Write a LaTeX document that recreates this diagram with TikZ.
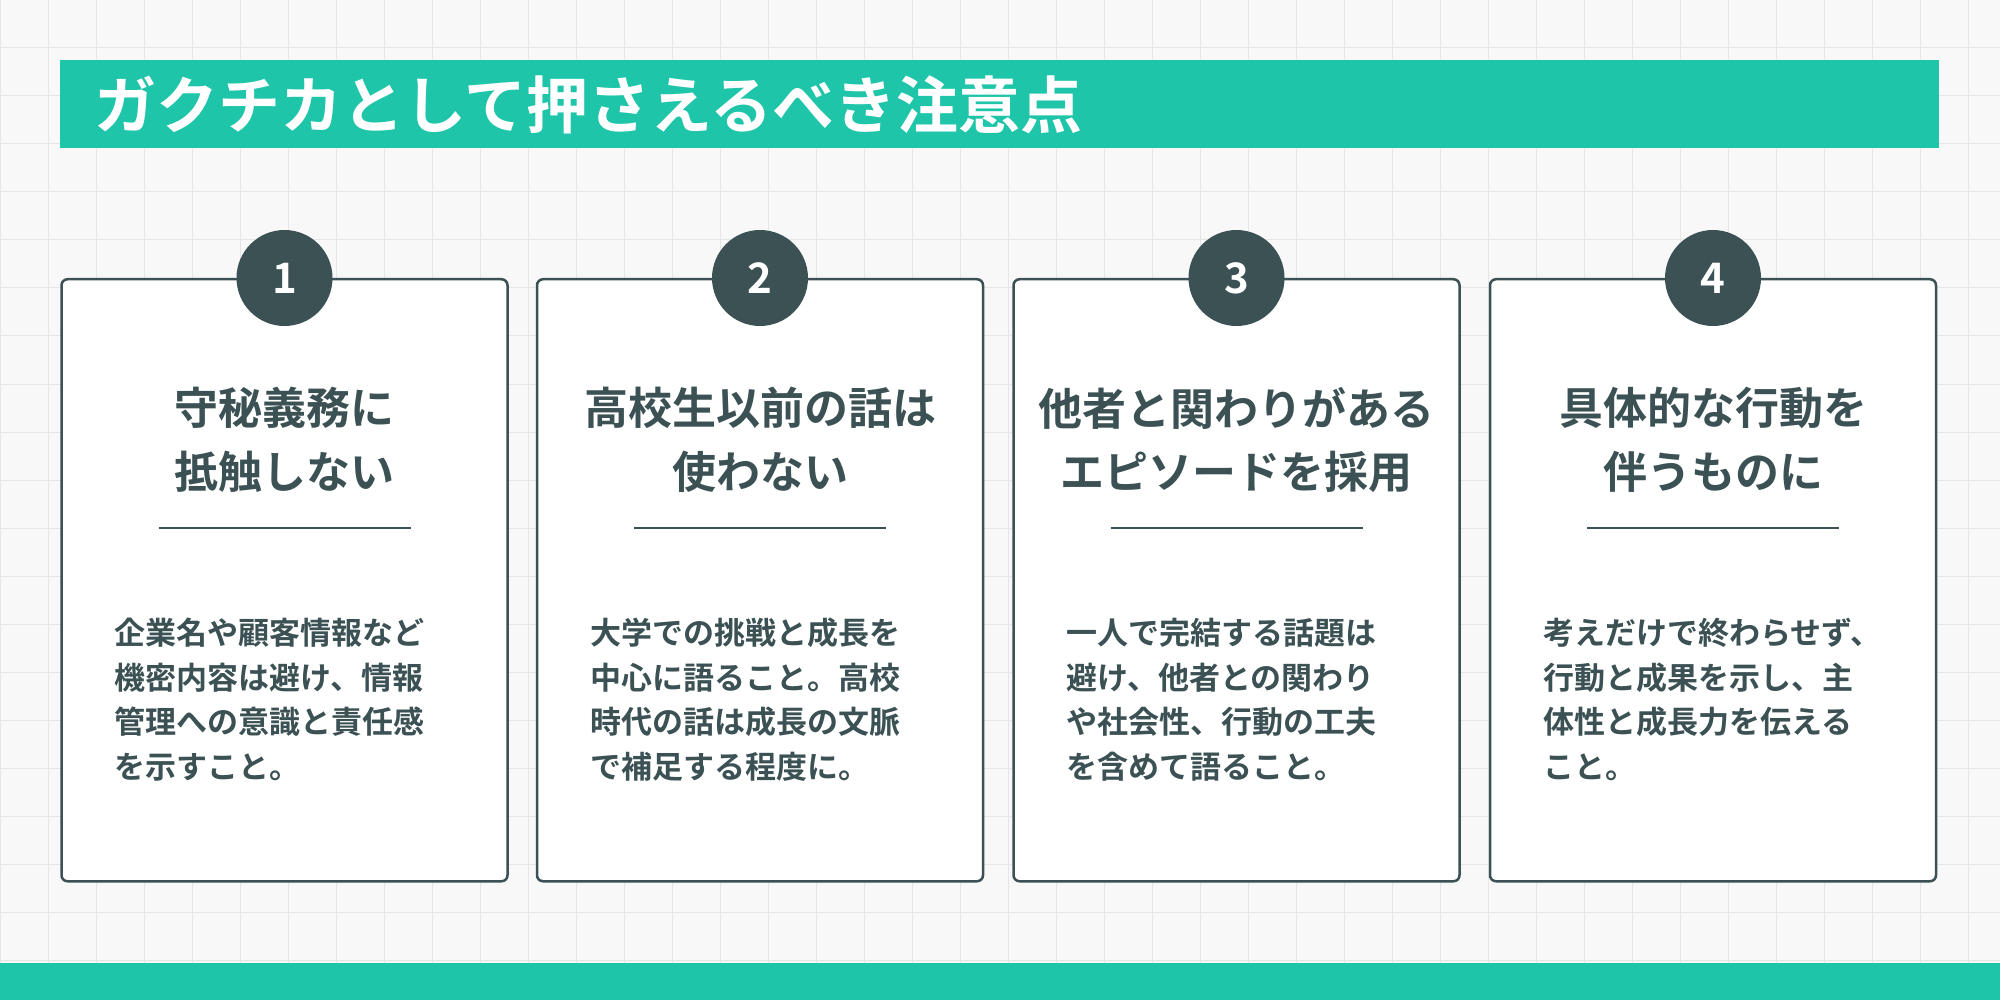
\documentclass[tikz,border=0pt]{standalone}
\usepackage{fontspec}
\setmainfont{Noto Sans CJK JP}[BoldFont={Noto Sans CJK JP Bold}]
\definecolor{teal1}{HTML}{1EC5A9}
\definecolor{dark1}{HTML}{3B5154}
\definecolor{bg1}{HTML}{F8F8F8}
\definecolor{grid1}{HTML}{E6E6E6}
\tikzset{
 card/.style={draw=dark1,line width=2.5pt,fill=white,rounded corners=6pt},
 numc/.style={circle,fill=dark1,minimum size=96pt,inner sep=0pt,text=white,font=\bfseries\fontsize{42}{42}\selectfont},
 ttl/.style={text=dark1,font=\bfseries\fontsize{44}{44}\selectfont,inner sep=0pt},
 body/.style={text=dark1,font=\bfseries\fontsize{31}{31}\selectfont,anchor=west,inner sep=0pt},
 uline/.style={draw=dark1,line width=2.5pt}
}
\begin{document}
\begin{tikzpicture}[x=1pt,y=-1pt]
\useasboundingbox (0,0) rectangle (2000,1000);
\fill[bg1] (0,0) rectangle (2000,1000);
\foreach \i in {0,48,...,2000} \draw[grid1,line width=1pt] (\i,0) -- (\i,1000);
\foreach \j in {0,48,...,1000} \draw[grid1,line width=1pt] (0,\j) -- (2000,\j);
\fill[teal1] (60,60) rectangle (1939,148);
\fill[teal1] (0,963) rectangle (2000,1000);
\node[anchor=west,text=white,font=\bfseries\fontsize{62}{62}\selectfont,inner sep=0pt] (head) at (94,105) {ガクチカとして押さえるべき注意点};
\foreach \k/\cx/\n/\ta/\tb/\la/\lb/\lc/\ld in {
 1/284.5/1/守秘義務に/抵触しない/企業名や顧客情報など/機密内容は避け、情報/管理への意識と責任感/を示すこと。,
 2/760/2/高校生以前の話は/使わない/大学での挑戦と成長を/中心に語ること。高校/時代の話は成長の文脈/で補足する程度に。,
 3/1236.5/3/他者と関わりがある/エピソードを採用/一人で完結する話題は/避け、他者との関わり/や社会性、行動の工夫/を含めて語ること。,
 4/1713/4/具体的な行動を/伴うものに/考えだけで終わらせず、/行動と成果を示し、主/体性と成長力を伝える/こと。}{
 \node[card,minimum width=446pt,minimum height=602pt,anchor=north] (c\k) at (\cx,278) {};
 \node[numc] (n\k) at (\cx,278) {\n};
 \node[ttl] (ta\k) at (\cx,408) {\ta};
 \node[ttl] (tb\k) at (\cx,472) {\tb};
 \coordinate (ul\k) at (\cx-126,528);
 \coordinate (ur\k) at (\cx+126,528);
 \draw[uline] (ul\k) -- (ur\k);
 \node[body] (la\k) at (\cx-170,633) {\la};
 \node[body] (lb\k) at (\cx-170,678) {\lb};
 \node[body] (lc\k) at (\cx-170,722) {\lc};
 \node[body] (ld\k) at (\cx-170,767) {\ld};
}
\end{tikzpicture}
\end{document}
